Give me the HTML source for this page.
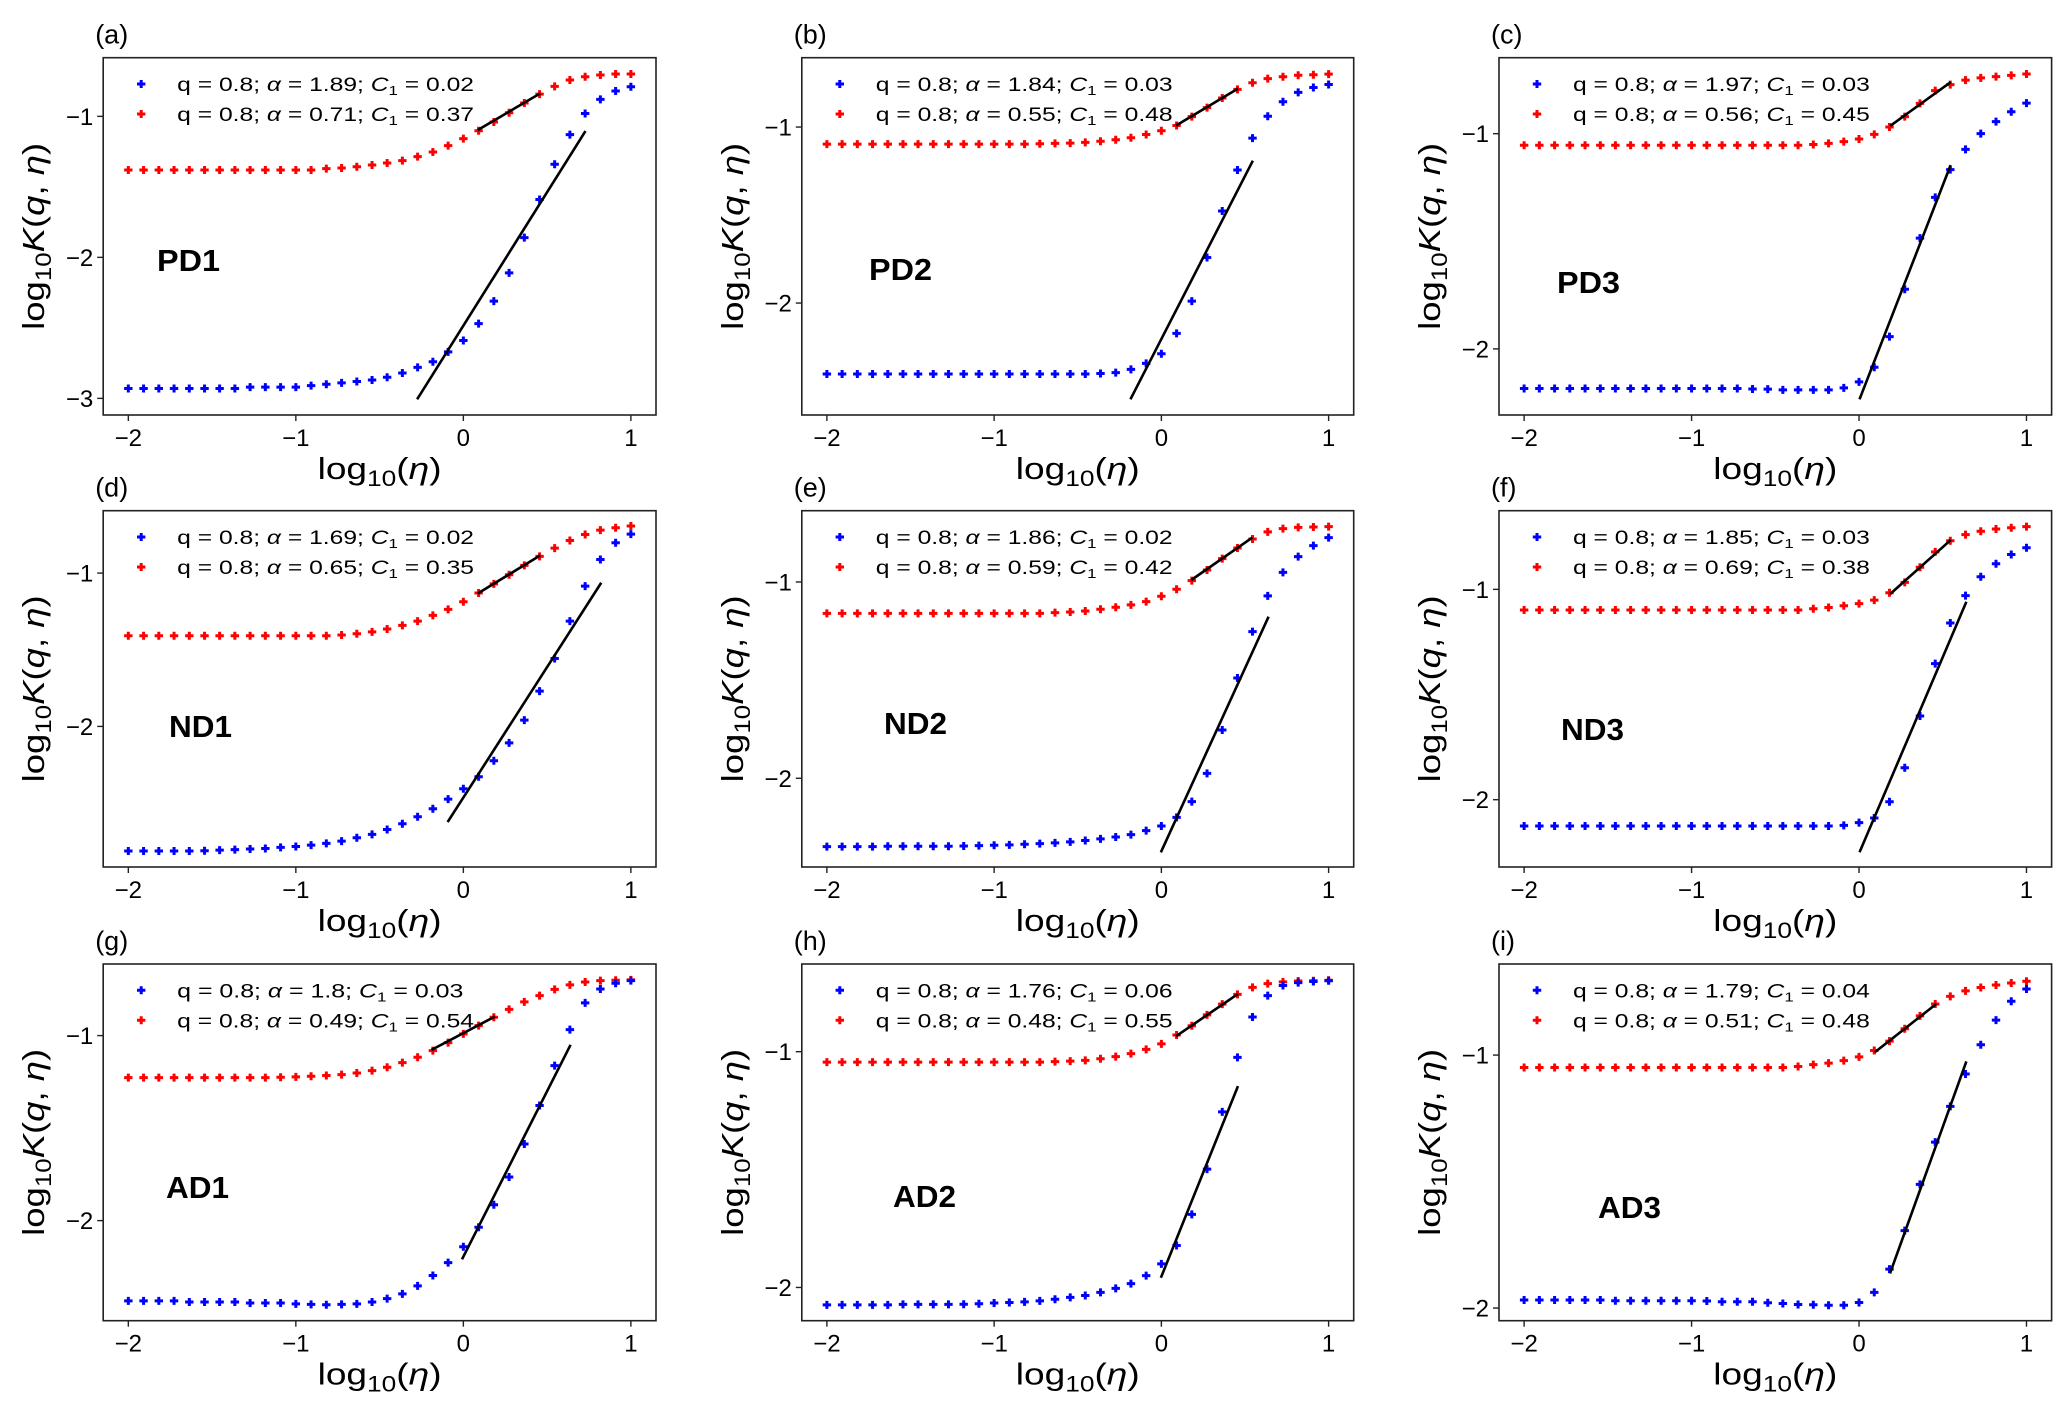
<!DOCTYPE html>
<html><head><meta charset="utf-8"><style>
html,body{margin:0;padding:0;background:#fff;}
svg{display:block;font-family:"Liberation Sans","DejaVu Sans",sans-serif;}
</style></head><body>
<svg id="fig" width="2067" height="1412" viewBox="0 0 2067 1412" xmlns="http://www.w3.org/2000/svg"></svg>
<script>
const xs = [-2,-1.909,-1.818,-1.727,-1.636,-1.545,-1.455,-1.364,-1.273,-1.182,-1.091,-1.0,-0.909,-0.818,-0.727,-0.636,-0.545,-0.455,-0.364,-0.273,-0.182,-0.091,0,0.091,0.182,0.273,0.364,0.455,0.545,0.636,0.727,0.818,0.909,1.0];
const xTicks = [-2,-1,0,1];

const blueA = [-2.93,-2.93,-2.93,-2.93,-2.93,-2.93,-2.93,-2.93,-2.92,-2.92,-2.92,-2.92,-2.91,-2.90,-2.89,-2.88,-2.87,-2.85,-2.82,-2.78,-2.74,-2.67,-2.59,-2.47,-2.31,-2.11,-1.86,-1.59,-1.34,-1.13,-0.98,-0.88,-0.82,-0.79];
const redA = [-1.38,-1.38,-1.38,-1.38,-1.38,-1.38,-1.38,-1.38,-1.38,-1.38,-1.38,-1.38,-1.38,-1.371,-1.366,-1.357,-1.345,-1.331,-1.314,-1.286,-1.253,-1.208,-1.158,-1.102,-1.04,-0.974,-0.905,-0.842,-0.787,-0.742,-0.719,-0.707,-0.70,-0.70];
const blueB = [-2.403,-2.403,-2.403,-2.403,-2.403,-2.403,-2.403,-2.403,-2.403,-2.403,-2.403,-2.403,-2.403,-2.403,-2.403,-2.403,-2.403,-2.403,-2.40,-2.395,-2.377,-2.343,-2.288,-2.172,-1.989,-1.741,-1.477,-1.244,-1.063,-0.939,-0.856,-0.803,-0.775,-0.758];
const redB = [-1.097,-1.097,-1.097,-1.097,-1.097,-1.097,-1.097,-1.097,-1.097,-1.097,-1.097,-1.097,-1.097,-1.097,-1.095,-1.093,-1.091,-1.087,-1.081,-1.072,-1.061,-1.042,-1.021,-0.991,-0.941,-0.89,-0.835,-0.786,-0.748,-0.725,-0.714,-0.706,-0.703,-0.699];
const blueC = [-2.184,-2.184,-2.184,-2.184,-2.184,-2.184,-2.184,-2.184,-2.184,-2.184,-2.184,-2.184,-2.184,-2.184,-2.184,-2.186,-2.187,-2.19,-2.19,-2.19,-2.19,-2.181,-2.153,-2.085,-1.943,-1.723,-1.485,-1.296,-1.167,-1.073,-1.0,-0.944,-0.898,-0.858];
const redC = [-1.054,-1.054,-1.054,-1.054,-1.054,-1.054,-1.054,-1.054,-1.054,-1.054,-1.054,-1.054,-1.054,-1.054,-1.054,-1.054,-1.054,-1.054,-1.054,-1.05,-1.045,-1.037,-1.025,-1.003,-0.969,-0.921,-0.859,-0.80,-0.772,-0.751,-0.741,-0.735,-0.729,-0.723];
const blueD = [-2.813,-2.813,-2.813,-2.813,-2.813,-2.811,-2.807,-2.804,-2.80,-2.796,-2.789,-2.783,-2.774,-2.763,-2.748,-2.726,-2.704,-2.672,-2.635,-2.589,-2.537,-2.474,-2.407,-2.328,-2.224,-2.107,-1.959,-1.77,-1.557,-1.313,-1.085,-0.911,-0.802,-0.746];
const redD = [-1.409,-1.409,-1.409,-1.409,-1.409,-1.409,-1.409,-1.409,-1.409,-1.409,-1.409,-1.409,-1.409,-1.409,-1.404,-1.396,-1.383,-1.365,-1.341,-1.313,-1.276,-1.237,-1.187,-1.13,-1.07,-1.011,-0.95,-0.891,-0.837,-0.787,-0.748,-0.72,-0.704,-0.693];
const blueE = [-2.348,-2.348,-2.348,-2.348,-2.346,-2.346,-2.346,-2.346,-2.346,-2.345,-2.343,-2.341,-2.339,-2.336,-2.333,-2.329,-2.324,-2.317,-2.309,-2.299,-2.287,-2.267,-2.243,-2.199,-2.119,-1.975,-1.754,-1.489,-1.253,-1.071,-0.951,-0.871,-0.815,-0.774];
const redE = [-1.16,-1.16,-1.16,-1.16,-1.16,-1.16,-1.16,-1.16,-1.16,-1.16,-1.16,-1.16,-1.16,-1.16,-1.16,-1.156,-1.153,-1.148,-1.139,-1.129,-1.117,-1.10,-1.073,-1.037,-0.993,-0.939,-0.881,-0.827,-0.781,-0.745,-0.728,-0.722,-0.72,-0.718];
const blueF = [-2.125,-2.125,-2.125,-2.125,-2.125,-2.125,-2.125,-2.125,-2.125,-2.125,-2.125,-2.125,-2.125,-2.125,-2.125,-2.125,-2.125,-2.125,-2.125,-2.125,-2.125,-2.122,-2.109,-2.087,-2.01,-1.848,-1.602,-1.353,-1.16,-1.03,-0.94,-0.878,-0.834,-0.802];
const redF = [-1.098,-1.098,-1.098,-1.098,-1.098,-1.098,-1.098,-1.098,-1.098,-1.098,-1.098,-1.098,-1.098,-1.098,-1.098,-1.098,-1.098,-1.098,-1.098,-1.092,-1.086,-1.078,-1.068,-1.051,-1.016,-0.967,-0.895,-0.822,-0.769,-0.74,-0.724,-0.713,-0.707,-0.702];
const blueG = [-2.434,-2.434,-2.434,-2.434,-2.44,-2.44,-2.44,-2.44,-2.445,-2.445,-2.445,-2.45,-2.453,-2.455,-2.453,-2.45,-2.44,-2.422,-2.396,-2.353,-2.297,-2.227,-2.141,-2.036,-1.914,-1.764,-1.586,-1.378,-1.162,-0.968,-0.823,-0.748,-0.717,-0.703];
const redG = [-1.227,-1.227,-1.227,-1.227,-1.227,-1.227,-1.227,-1.227,-1.227,-1.227,-1.225,-1.223,-1.22,-1.216,-1.211,-1.202,-1.189,-1.171,-1.146,-1.117,-1.081,-1.038,-0.991,-0.946,-0.901,-0.858,-0.818,-0.784,-0.75,-0.726,-0.71,-0.703,-0.701,-0.699];
const blueH = [-2.074,-2.074,-2.074,-2.074,-2.074,-2.072,-2.072,-2.072,-2.072,-2.071,-2.069,-2.066,-2.064,-2.061,-2.057,-2.05,-2.042,-2.034,-2.021,-2.004,-1.984,-1.95,-1.90,-1.822,-1.69,-1.498,-1.255,-1.024,-0.853,-0.762,-0.719,-0.707,-0.702,-0.699];
const redH = [-1.044,-1.044,-1.044,-1.044,-1.044,-1.044,-1.044,-1.044,-1.044,-1.044,-1.044,-1.044,-1.044,-1.044,-1.044,-1.042,-1.04,-1.037,-1.03,-1.021,-1.008,-0.99,-0.967,-0.929,-0.89,-0.844,-0.798,-0.757,-0.727,-0.711,-0.704,-0.70,-0.699,-0.697];
const blueI = [-1.968,-1.968,-1.968,-1.968,-1.968,-1.968,-1.971,-1.971,-1.971,-1.971,-1.971,-1.971,-1.972,-1.975,-1.975,-1.975,-1.979,-1.982,-1.986,-1.987,-1.989,-1.989,-1.978,-1.938,-1.846,-1.694,-1.511,-1.344,-1.203,-1.075,-0.959,-0.862,-0.787,-0.739];
const redI = [-1.049,-1.049,-1.049,-1.049,-1.049,-1.049,-1.049,-1.049,-1.049,-1.049,-1.049,-1.049,-1.049,-1.049,-1.049,-1.049,-1.049,-1.049,-1.045,-1.038,-1.032,-1.022,-1.007,-0.982,-0.945,-0.896,-0.845,-0.798,-0.768,-0.746,-0.733,-0.723,-0.715,-0.708];

const fitBlue = {a:[-0.276,-3.007,0.729,-1.104], b:[-0.185,-2.547,0.547,-1.191], c:[0.003,-2.234,0.547,-1.146],
  d:[-0.094,-2.624,0.823,-1.063], e:[-0.003,-2.377,0.641,-1.177], f:[0.003,-2.25,0.641,-1.059],
  g:[-0.008,-2.209,0.64,-1.05], h:[-0.003,-1.959,0.458,-1.146], i:[0.185,-1.863,0.641,-1.025]};
const fitRed = {a:[0.086,-1.097,0.459,-0.837], b:[0.088,-0.991,0.458,-0.782], c:[0.186,-0.964,0.548,-0.76],
  d:[0.086,-1.133,0.458,-0.885], e:[0.179,-0.99,0.544,-0.774], f:[0.186,-1.022,0.548,-0.765],
  g:[-0.19,-1.077,0.188,-0.897], h:[0.088,-0.934,0.458,-0.755], i:[0.094,-0.989,0.461,-0.798]};

const legendBlue = {a:["1.89","0.02"], b:["1.84","0.03"], c:["1.97","0.03"], d:["1.69","0.02"], e:["1.86","0.02"], f:["1.85","0.03"], g:["1.8","0.03"], h:["1.76","0.06"], i:["1.79","0.04"]};
const legendRed = {a:["0.71","0.37"], b:["0.55","0.48"], c:["0.56","0.45"], d:["0.65","0.35"], e:["0.59","0.42"], f:["0.69","0.38"], g:["0.49","0.54"], h:["0.48","0.55"], i:["0.51","0.48"]};
const yTicks = {a:[-1,-2,-3], b:[-1,-2], c:[-1,-2], d:[-1,-2], e:[-1,-2], f:[-1,-2], g:[-1,-2], h:[-1,-2], i:[-1,-2]};
const groupNames = {a:"PD1", b:"PD2", c:"PD3", d:"ND1", e:"ND2", f:"ND3", g:"AD1", h:"AD2", i:"AD3"};
const seriesBlue = {a:blueA,b:blueB,c:blueC,d:blueD,e:blueE,f:blueF,g:blueG,h:blueH,i:blueI};
const seriesRed = {a:redA,b:redB,c:redC,d:redD,e:redE,f:redF,g:redG,h:redH,i:redI};

// layout (pixels)
const cols = [[103.2,656],[801.8,1353.7],[1499,2051.6]];
const rows = [[57.7,415],[510.7,867],[964,1320.7]];
const ylims = {a:[-3.118,-0.584], b:[-2.636,-0.606], c:[-2.307,-0.647], d:[-2.917,-0.593], e:[-2.452,-0.637], f:[-2.32,-0.626], g:[-2.541,-0.613], h:[-2.141,-0.628], i:[-2.05,-0.64]};
const nameXY = {a:[157,260], b:[869,269], c:[1557,282], d:[169,726], e:[884,723], f:[1561,729], g:[166,1187], h:[893,1196], i:[1598,1207]};

const NS = "http://www.w3.org/2000/svg";
const fig = document.getElementById('fig');
function mk(tag, attrs, parent){ const e=document.createElementNS(NS,tag); for(const k in attrs) e.setAttribute(k,attrs[k]); (parent||fig).appendChild(e); return e; }

const keys = ['a','b','c','d','e','f','g','h','i'];
keys.forEach((k,idx)=>{
  const [L,R] = cols[idx%3]; const [T,B] = rows[Math.floor(idx/3)];
  const [ymin,ymax] = ylims[k];
  const sx = v => L + (v+2.15)/3.3*(R-L);
  const sy = v => B - (v-ymin)/(ymax-ymin)*(B-T);
  const g = mk('g',{});
  
  

  const lab = mk('text',{x:L-8,y:T-14,'font-size':27,fill:'#000'},g); lab.textContent='('+k+')';
  
  

  const box = mk('rect',{x:L,y:T,width:R-L,height:B-T,fill:'#fff',stroke:'#222','stroke-width':1.6},g);
  
  

  xTicks.forEach(t=>{
    const x=sx(t);
    const tk=mk('line',{x1:x,y1:B,x2:x,y2:B+6,stroke:'#222','stroke-width':1.4},g);
    
    
    const tl=mk('text',{x:x,y:B+31,'font-size':24,'text-anchor':'middle',fill:'#000'},g);
    tl.textContent = t<0 ? '\u2212'+Math.abs(t) : String(t);
    
    
  });
  yTicks[k].forEach(t=>{
    const y=sy(t);
    const tk=mk('line',{x1:L-6,y1:y,x2:L,y2:y,stroke:'#222','stroke-width':1.4},g);
    
    
    const tl=mk('text',{x:L-10,y:y+8.5,'font-size':24,'text-anchor':'end',fill:'#000'},g);
    tl.textContent = '\u2212'+Math.abs(t);
    
    
  });

  const xl = mk('text',{x:(L+R)/2,y:B+64,'font-size':31,'text-anchor':'middle',fill:'#000',textLength:124,lengthAdjust:'spacingAndGlyphs'},g);
  xl.innerHTML = 'log<tspan font-size="22" dy="7">10</tspan><tspan dy="-7">(</tspan><tspan font-style="italic">η</tspan>)';
  
  

  const cy=(T+B)/2, cx=L-70;
  const yl = mk('text',{x:cx,y:cy+11,'font-size':31,'text-anchor':'middle',fill:'#000',transform:`rotate(-90 ${cx} ${cy})`,textLength:187,lengthAdjust:'spacingAndGlyphs'},g);
  yl.innerHTML = 'log<tspan font-size="22" dy="7">10</tspan><tspan dy="-7" font-style="italic">K</tspan>(<tspan font-style="italic">q</tspan>, <tspan font-style="italic">η</tspan>)';
  
  

  const nm = mk('text',{x:nameXY[k][0],y:nameXY[k][1]+11,'font-size':31,'font-weight':'bold',fill:'#000',textLength:63,lengthAdjust:'spacingAndGlyphs'},g);
  nm.textContent = groupNames[k];
  
  

  function plus(x,y,color,name){
    const p = mk('path',{d:`M${x-4.2} ${y}H${x+4.2}M${x} ${y-4}V${y+4}`,stroke:color,'stroke-width':3,fill:'none'},g);
    
    
  }
  seriesRed[k].forEach((v,i)=>plus(sx(xs[i]),sy(v),'#ff0000','red-point'));
  seriesBlue[k].forEach((v,i)=>plus(sx(xs[i]),sy(v),'#0000ff','blue-point'));

  [fitRed[k],fitBlue[k]].forEach((f,j)=>{
    const ln = mk('line',{x1:sx(f[0]),y1:sy(f[1]),x2:sx(f[2]),y2:sy(f[3]),stroke:'#000','stroke-width':2.6},g);
    
    
  });

  [[legendBlue[k],'#0000ff',26.3],[legendRed[k],'#ff0000',56.3]].forEach(([vals,col,dy])=>{
    const yy=T+dy;
    plus(L+38,yy,col,'legend-marker');
    const plain = 'q = 0.8; α = '+vals[0]+'; C1 = '+vals[1];
    const t = mk('text',{x:L+74,y:yy+7,'font-size':19,fill:'#000',textLength:(plain.length*10.6).toFixed(1),lengthAdjust:'spacingAndGlyphs'},g);
    t.innerHTML = 'q = 0.8; <tspan font-style="italic">α</tspan>  =  '+vals[0]+'; <tspan font-style="italic">C</tspan><tspan font-size="13" dy="4">1</tspan><tspan dy="-4">  =  '+vals[1]+'</tspan>';
    
    
  });
});
</script>
</body></html>
